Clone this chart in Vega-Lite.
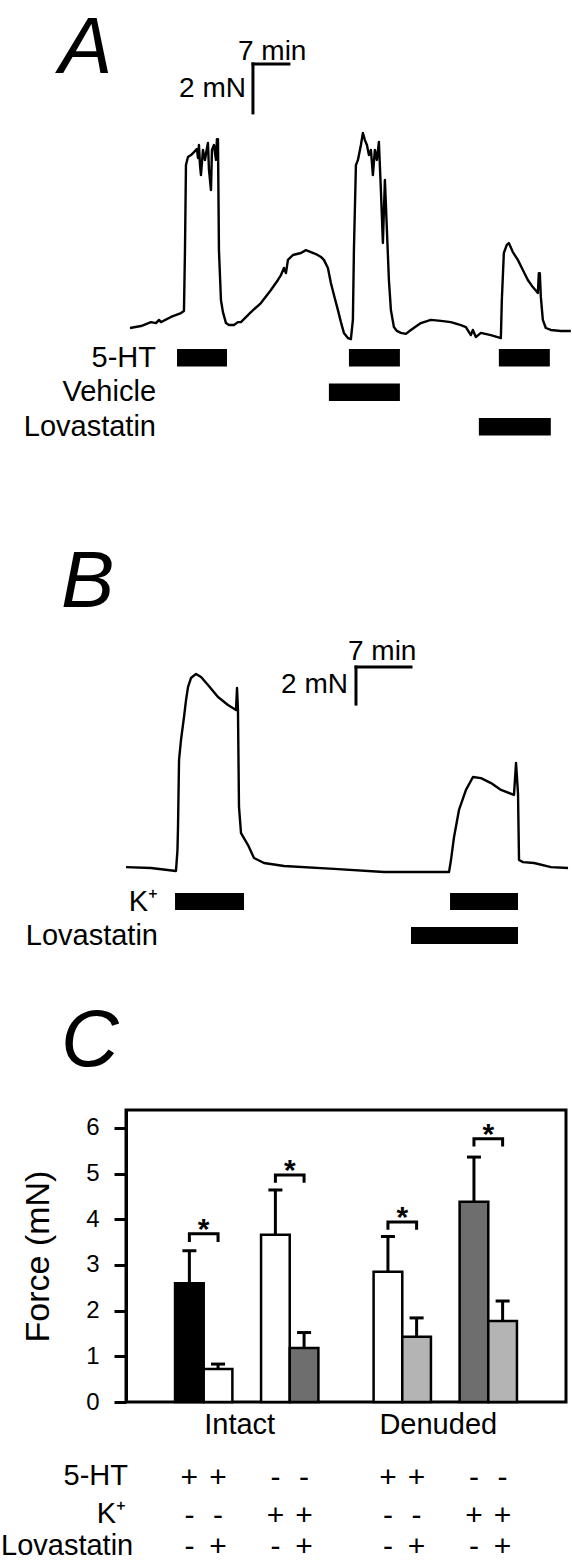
{
"$schema": "https://vega.github.io/schema/vega-lite/v6.json",
"background": "white",
"padding": 0,
"spacing": 0,
"bounds": "flush",
"config": {
  "font": "Liberation Sans",
  "view": {"stroke": null},
  "text": {"font": "Liberation Sans", "color": "black"},
  "axis": {"grid": false, "labelFont": "Liberation Sans", "titleFont": "Liberation Sans"}
},
"datasets": {
  "traceA": [
    {"t":0.78,"f":0},{"t":2.92,"f":0.08},{"t":4.86,"f":0.24},{"t":5.84,"f":0.20},{"t":6.42,"f":0.33},{"t":6.81,"f":0.24},{"t":8.75,"f":0.45},{"t":10.70,"f":0.61},{"t":11.28,"f":0.69},{"t":11.48,"f":3.18},{"t":11.67,"f":6.65},{"t":12.06,"f":6.98},{"t":12.65,"f":7.06},{"t":13.23,"f":7.18},{"t":13.81,"f":7.31},{"t":14.01,"f":6.94},{"t":14.20,"f":7.47},{"t":14.40,"f":6.65},{"t":14.59,"f":6.24},{"t":14.98,"f":7.27},{"t":15.37,"f":6.86},{"t":15.76,"f":7.35},{"t":15.95,"f":7.55},{"t":16.15,"f":6.45},{"t":16.54,"f":5.63},{"t":16.73,"f":7.27},{"t":17.12,"f":7.47},{"t":17.51,"f":6.86},{"t":17.70,"f":7.71},{"t":17.90,"f":7.71},{"t":18.09,"f":3.18},{"t":18.48,"f":1.14},{"t":18.87,"f":0.65},{"t":19.46,"f":0.20},{"t":20.04,"f":0.12},{"t":21.01,"f":0.12},{"t":21.79,"f":0.24},{"t":22.37,"f":0.24},{"t":24.32,"f":0.65},{"t":26.26,"f":1.02},{"t":28.21,"f":1.55},{"t":29.57,"f":1.96},{"t":30.16,"f":2.16},{"t":30.74,"f":2.45},{"t":31.13,"f":2.24},{"t":31.52,"f":2.78},{"t":32.49,"f":2.98},{"t":34.05,"f":3.06},{"t":35.02,"f":3.18},{"t":35.99,"f":3.10},{"t":36.96,"f":3.02},{"t":37.94,"f":2.90},{"t":38.52,"f":2.78},{"t":39.30,"f":2.45},{"t":39.88,"f":1.84},{"t":40.47,"f":1.35},{"t":41.25,"f":0.73},{"t":41.83,"f":0.24},{"t":42.41,"f":-0.20},{"t":43.19,"f":-0.41},{"t":43.77,"f":-0.45},{"t":44.16,"f":0.33},{"t":44.36,"f":3.18},{"t":44.75,"f":6.65},{"t":45.14,"f":6.86},{"t":45.72,"f":7.47},{"t":46.11,"f":7.96},{"t":46.50,"f":7.67},{"t":46.89,"f":7.47},{"t":47.28,"f":7.06},{"t":47.67,"f":7.27},{"t":48.05,"f":6.24},{"t":48.44,"f":7.27},{"t":48.83,"f":6.86},{"t":49.22,"f":7.59},{"t":49.61,"f":5.63},{"t":50.00,"f":3.47},{"t":50.39,"f":6.04},{"t":50.78,"f":4.00},{"t":51.17,"f":1.96},{"t":51.56,"f":0.73},{"t":52.14,"f":0.04},{"t":52.72,"f":-0.12},{"t":53.50,"f":-0.20},{"t":54.47,"f":-0.24},{"t":55.45,"f":-0.08},{"t":57.39,"f":0.20},{"t":59.34,"f":0.33},{"t":61.28,"f":0.29},{"t":63.23,"f":0.24},{"t":65.18,"f":0.12},{"t":66.15,"f":0.04},{"t":67.12,"f":-0.29},{"t":67.51,"f":-0.08},{"t":68.09,"f":-0.37},{"t":69.07,"f":-0.20},{"t":71.01,"f":-0.29},{"t":72.96,"f":-0.41},{"t":73.15,"f":1.14},{"t":73.54,"f":3.06},{"t":74.12,"f":3.39},{"t":74.51,"f":3.47},{"t":75.29,"f":3.10},{"t":76.26,"f":2.78},{"t":77.24,"f":2.37},{"t":78.21,"f":1.96},{"t":79.18,"f":1.67},{"t":80.16,"f":1.43},{"t":80.35,"f":2.24},{"t":80.54,"f":2.24},{"t":80.74,"f":1.27},{"t":81.13,"f":0.33},{"t":81.71,"f":0.00},{"t":82.68,"f":-0.08},{"t":84.63,"f":-0.12},{"t":86.58,"f":-0.12}
  ],
  "traceB": [
    {"t":0,"f":0.05},{"t":3.18,"f":0},{"t":6.36,"f":-0.16},{"t":6.55,"f":0.97},{"t":6.62,"f":2.22},{"t":6.75,"f":5.84},{"t":7.00,"f":6.92},{"t":7.38,"f":8.16},{"t":7.64,"f":9.08},{"t":7.89,"f":9.78},{"t":8.27,"f":10.27},{"t":8.91,"f":10.49},{"t":9.55,"f":10.32},{"t":10.44,"f":9.89},{"t":11.71,"f":9.24},{"t":12.98,"f":8.81},{"t":14.00,"f":8.54},{"t":14.13,"f":9.73},{"t":14.25,"f":8.54},{"t":14.38,"f":3.30},{"t":14.64,"f":1.89},{"t":15.53,"f":1.24},{"t":16.29,"f":0.54},{"t":17.56,"f":0.27},{"t":20.11,"f":0.11},{"t":26.47,"f":-0.05},{"t":32.84,"f":-0.22},{"t":41.11,"f":-0.22},{"t":41.36,"f":0.43},{"t":41.75,"f":1.68},{"t":42.38,"f":3.14},{"t":43.27,"f":4.22},{"t":44.16,"f":4.92},{"t":45.18,"f":4.86},{"t":46.46,"f":4.59},{"t":47.73,"f":4.22},{"t":49.38,"f":3.95},{"t":49.64,"f":5.68},{"t":49.89,"f":4.05},{"t":50.02,"f":0.43},{"t":50.53,"f":0.32},{"t":51.93,"f":0.27},{"t":54.09,"f":0.05},{"t":56.26,"f":0}
  ],
  "treatA": [
    {"treatment":"5-HT","start":9.93,"end":19.66},
    {"treatment":"5-HT","start":43.39,"end":53.31},
    {"treatment":"5-HT","start":72.57,"end":82.49},
    {"treatment":"Vehicle","start":39.49,"end":53.31},
    {"treatment":"Lovastatin","start":68.68,"end":82.68}
  ],
  "labelsA": [{"treatment":"5-HT"},{"treatment":"Vehicle"},{"treatment":"Lovastatin"}],
  "treatB": [
    {"treatment":"K⁺","start":6.24,"end":15.02},
    {"treatment":"K⁺","start":41.24,"end":49.89},
    {"treatment":"Lovastatin","start":36.27,"end":49.89}
  ],
  "labelsB": [{"treatment":"K⁺"},{"treatment":"Lovastatin"}],
  "bars": [
    {"group":"Intact","condition":"5-HT","bar":"Intact 5-HT","force":2.60,"upper":3.31,"ht":"+","k":"-","lov":"-"},
    {"group":"Intact","condition":"5-HT + Lovastatin","bar":"Intact 5-HT + Lovastatin","force":0.72,"upper":0.83,"ht":"+","k":"-","lov":"+"},
    {"group":"Intact","condition":"K⁺","bar":"Intact K⁺","force":3.66,"upper":4.64,"ht":"-","k":"+","lov":"-"},
    {"group":"Intact","condition":"K⁺ + Lovastatin","bar":"Intact K⁺ + Lovastatin","force":1.18,"upper":1.52,"ht":"-","k":"+","lov":"+"},
    {"group":"Denuded","condition":"5-HT","bar":"Denuded 5-HT","force":2.85,"upper":3.62,"ht":"+","k":"-","lov":"-"},
    {"group":"Denuded","condition":"5-HT + Lovastatin","bar":"Denuded 5-HT + Lovastatin","force":1.43,"upper":1.84,"ht":"+","k":"-","lov":"+"},
    {"group":"Denuded","condition":"K⁺","bar":"Denuded K⁺","force":4.38,"upper":5.36,"ht":"-","k":"+","lov":"-"},
    {"group":"Denuded","condition":"K⁺ + Lovastatin","bar":"Denuded K⁺ + Lovastatin","force":1.77,"upper":2.21,"ht":"-","k":"+","lov":"+"}
  ],
  "brackets": [
    {"pair":"Intact 5-HT","group":"Intact","condition":"5-HT","y":3.50,"o":1},
    {"pair":"Intact 5-HT","group":"Intact","condition":"5-HT","y":3.68,"o":2},
    {"pair":"Intact 5-HT","group":"Intact","condition":"5-HT + Lovastatin","y":3.68,"o":3},
    {"pair":"Intact 5-HT","group":"Intact","condition":"5-HT + Lovastatin","y":3.50,"o":4},
    {"pair":"Intact K⁺","group":"Intact","condition":"K⁺","y":4.80,"o":1},
    {"pair":"Intact K⁺","group":"Intact","condition":"K⁺","y":4.97,"o":2},
    {"pair":"Intact K⁺","group":"Intact","condition":"K⁺ + Lovastatin","y":4.97,"o":3},
    {"pair":"Intact K⁺","group":"Intact","condition":"K⁺ + Lovastatin","y":4.80,"o":4},
    {"pair":"Denuded 5-HT","group":"Denuded","condition":"5-HT","y":3.77,"o":1},
    {"pair":"Denuded 5-HT","group":"Denuded","condition":"5-HT","y":3.94,"o":2},
    {"pair":"Denuded 5-HT","group":"Denuded","condition":"5-HT + Lovastatin","y":3.94,"o":3},
    {"pair":"Denuded 5-HT","group":"Denuded","condition":"5-HT + Lovastatin","y":3.77,"o":4},
    {"pair":"Denuded K⁺","group":"Denuded","condition":"K⁺","y":5.59,"o":1},
    {"pair":"Denuded K⁺","group":"Denuded","condition":"K⁺","y":5.76,"o":2},
    {"pair":"Denuded K⁺","group":"Denuded","condition":"K⁺ + Lovastatin","y":5.76,"o":3},
    {"pair":"Denuded K⁺","group":"Denuded","condition":"K⁺ + Lovastatin","y":5.59,"o":4}
  ],
  "stars": [
    {"group":"Intact","pair":"5-HT","h":3.68},
    {"group":"Intact","pair":"K⁺","h":4.97},
    {"group":"Denuded","pair":"5-HT","h":3.94},
    {"group":"Denuded","pair":"K⁺","h":5.76}
  ]
},
"vconcat": [
  {
    "width": 447, "height": 480,
    "resolve": {"scale": {"y": "independent"}},
    "layer": [
      {"layer": [
        {"data": {"name": "traceA"},
         "mark": {"type": "line", "color": "black", "strokeWidth": 2.4, "strokeJoin": "round"},
         "encoding": {
           "x": {"field": "t", "type": "quantitative", "scale": {"domain": [0, 87], "nice": false, "zero": false}, "axis": null},
           "y": {"field": "f", "type": "quantitative", "scale": {"domain": [-6.204, 13.388], "nice": false, "zero": false}, "axis": null}}},
        {"data": {"values": [{}]},
         "mark": {"type": "rule", "color": "black", "strokeWidth": 3, "strokeCap": "square"},
         "encoding": {
           "x": {"datum": 24.71, "type": "quantitative", "scale": {"domain": [0, 87], "nice": false, "zero": false}, "axis": null},
           "x2": {"datum": 31.71},
           "y": {"datum": 10.78, "type": "quantitative", "scale": {"domain": [-6.204, 13.388], "nice": false, "zero": false}, "axis": null}}},
        {"data": {"values": [{}]},
         "mark": {"type": "rule", "color": "black", "strokeWidth": 3, "strokeCap": "square"},
         "encoding": {
           "x": {"datum": 24.71, "type": "quantitative", "scale": {"domain": [0, 87], "nice": false, "zero": false}, "axis": null},
           "y": {"datum": 10.78, "type": "quantitative", "scale": {"domain": [-6.204, 13.388], "nice": false, "zero": false}, "axis": null},
           "y2": {"datum": 8.78}}},
        {"data": {"values": [{}]},
         "mark": {"type": "text", "text": "A", "fontSize": 80, "fontStyle": "italic", "align": "left", "baseline": "alphabetic"},
         "encoding": {
           "x": {"datum": -13.04, "type": "quantitative", "scale": {"domain": [0, 87], "nice": false, "zero": false}, "axis": null},
           "y": {"datum": 10.408, "type": "quantitative", "scale": {"domain": [-6.204, 13.388], "nice": false, "zero": false}, "axis": null}}},
        {"data": {"values": [{}]},
         "mark": {"type": "text", "text": "7 min", "fontSize": 28, "align": "left", "baseline": "alphabetic"},
         "encoding": {
           "x": {"datum": 21.79, "type": "quantitative", "scale": {"domain": [0, 87], "nice": false, "zero": false}, "axis": null},
           "y": {"datum": 10.94, "type": "quantitative", "scale": {"domain": [-6.204, 13.388], "nice": false, "zero": false}, "axis": null}}},
        {"data": {"values": [{}]},
         "mark": {"type": "text", "text": "2 mN", "fontSize": 28, "align": "right", "baseline": "alphabetic"},
         "encoding": {
           "x": {"datum": 23.35, "type": "quantitative", "scale": {"domain": [0, 87], "nice": false, "zero": false}, "axis": null},
           "y": {"datum": 9.43, "type": "quantitative", "scale": {"domain": [-6.204, 13.388], "nice": false, "zero": false}, "axis": null}}}
      ]},
      {"layer": [
        {"data": {"name": "treatA"},
         "mark": {"type": "bar", "color": "black"},
         "encoding": {
           "x": {"field": "start", "type": "quantitative", "scale": {"domain": [0, 87], "nice": false, "zero": false}, "axis": null},
           "x2": {"field": "end"},
           "y": {"field": "treatment", "type": "nominal", "scale": {"domain": ["5-HT", "Vehicle", "Lovastatin"], "range": [349, 435.5], "paddingInner": 0.493, "paddingOuter": 0}, "axis": null}}},
        {"data": {"name": "labelsA"},
         "mark": {"type": "text", "fontSize": 29, "align": "right", "baseline": "middle"},
         "encoding": {
           "x": {"datum": 5.84, "type": "quantitative", "scale": {"domain": [0, 87], "nice": false, "zero": false}, "axis": null},
           "y": {"field": "treatment", "type": "nominal", "scale": {"domain": ["5-HT", "Vehicle", "Lovastatin"], "range": [349, 435.5], "paddingInner": 0.493, "paddingOuter": 0}, "axis": null},
           "text": {"field": "treatment"}}}
      ]}
    ]
  },
  {
    "width": 447, "height": 630,
    "resolve": {"scale": {"y": "independent"}},
    "layer": [
      {"layer": [
        {"data": {"name": "traceB"},
         "mark": {"type": "line", "color": "black", "strokeWidth": 2.4, "strokeJoin": "round"},
         "encoding": {
           "x": {"field": "t", "type": "quantitative", "scale": {"domain": [0, 56.89], "nice": false, "zero": false}, "axis": null},
           "y": {"field": "f", "type": "quantitative", "scale": {"domain": [-13.081, 20.973], "nice": false, "zero": false}, "axis": null}}},
        {"data": {"values": [{}]},
         "mark": {"type": "rule", "color": "black", "strokeWidth": 3, "strokeCap": "square"},
         "encoding": {
           "x": {"datum": 29.27, "type": "quantitative", "scale": {"domain": [0, 56.89], "nice": false, "zero": false}, "axis": null},
           "x2": {"datum": 36.27},
           "y": {"datum": 10.86, "type": "quantitative", "scale": {"domain": [-13.081, 20.973], "nice": false, "zero": false}, "axis": null}}},
        {"data": {"values": [{}]},
         "mark": {"type": "rule", "color": "black", "strokeWidth": 3, "strokeCap": "square"},
         "encoding": {
           "x": {"datum": 29.27, "type": "quantitative", "scale": {"domain": [0, 56.89], "nice": false, "zero": false}, "axis": null},
           "y": {"datum": 10.86, "type": "quantitative", "scale": {"domain": [-13.081, 20.973], "nice": false, "zero": false}, "axis": null},
           "y2": {"datum": 8.86}}},
        {"data": {"values": [{}]},
         "mark": {"type": "text", "text": "B", "fontSize": 80, "fontStyle": "italic", "align": "left", "baseline": "alphabetic"},
         "encoding": {
           "x": {"datum": -8.27, "type": "quantitative", "scale": {"domain": [0, 56.89], "nice": false, "zero": false}, "axis": null},
           "y": {"datum": 14.11, "type": "quantitative", "scale": {"domain": [-13.081, 20.973], "nice": false, "zero": false}, "axis": null}}},
        {"data": {"values": [{}]},
         "mark": {"type": "text", "text": "7 min", "fontSize": 28, "align": "left", "baseline": "alphabetic"},
         "encoding": {
           "x": {"datum": 28.25, "type": "quantitative", "scale": {"domain": [0, 56.89], "nice": false, "zero": false}, "axis": null},
           "y": {"datum": 11.24, "type": "quantitative", "scale": {"domain": [-13.081, 20.973], "nice": false, "zero": false}, "axis": null}}},
        {"data": {"values": [{}]},
         "mark": {"type": "text", "text": "2 mN", "fontSize": 28, "align": "right", "baseline": "alphabetic"},
         "encoding": {
           "x": {"datum": 28.25, "type": "quantitative", "scale": {"domain": [0, 56.89], "nice": false, "zero": false}, "axis": null},
           "y": {"datum": 9.46, "type": "quantitative", "scale": {"domain": [-13.081, 20.973], "nice": false, "zero": false}, "axis": null}}},
        {"data": {"values": [{}]},
         "mark": {"type": "text", "text": "C", "fontSize": 80, "fontStyle": "italic", "align": "left", "baseline": "alphabetic"},
         "encoding": {
           "x": {"datum": -8.27, "type": "quantitative", "scale": {"domain": [0, 56.89], "nice": false, "zero": false}, "axis": null},
           "y": {"datum": -10.703, "type": "quantitative", "scale": {"domain": [-13.081, 20.973], "nice": false, "zero": false}, "axis": null}}},
        {"data": {"values": [{}]},
         "mark": {"type": "text", "text": "5-HT", "fontSize": 29, "align": "right", "baseline": "alphabetic"},
         "encoding": {
           "x": {"datum": 0.25, "type": "quantitative", "scale": {"domain": [0, 56.89], "nice": false, "zero": false}, "axis": null},
           "y": {"datum": -33.351, "type": "quantitative", "scale": {"domain": [-13.081, 20.973], "nice": false, "zero": false}, "axis": null}}},
        {"data": {"values": [{}]},
         "mark": {"type": "text", "text": "K⁺", "fontSize": 29, "align": "right", "baseline": "alphabetic"},
         "encoding": {
           "x": {"datum": 0, "type": "quantitative", "scale": {"domain": [0, 56.89], "nice": false, "zero": false}, "axis": null},
           "y": {"datum": -35.405, "type": "quantitative", "scale": {"domain": [-13.081, 20.973], "nice": false, "zero": false}, "axis": null}}},
        {"data": {"values": [{}]},
         "mark": {"type": "text", "text": "Lovastatin", "fontSize": 29, "align": "left", "baseline": "alphabetic"},
         "encoding": {
           "x": {"datum": -15.909, "type": "quantitative", "scale": {"domain": [0, 56.89], "nice": false, "zero": false}, "axis": null},
           "y": {"datum": -37.135, "type": "quantitative", "scale": {"domain": [-13.081, 20.973], "nice": false, "zero": false}, "axis": null}}}
      ]},
      {"layer": [
        {"data": {"name": "treatB"},
         "mark": {"type": "bar", "color": "black"},
         "encoding": {
           "x": {"field": "start", "type": "quantitative", "scale": {"domain": [0, 56.89], "nice": false, "zero": false}, "axis": null},
           "x2": {"field": "end"},
           "y": {"field": "treatment", "type": "nominal", "scale": {"domain": ["K⁺", "Lovastatin"], "range": [413, 464], "paddingInner": 0.5, "paddingOuter": 0}, "axis": null}}},
        {"data": {"name": "labelsB"},
         "mark": {"type": "text", "fontSize": 29, "align": "right", "baseline": "middle"},
         "encoding": {
           "x": {"datum": 4.07, "type": "quantitative", "scale": {"domain": [0, 56.89], "nice": false, "zero": false}, "axis": null},
           "y": {"field": "treatment", "type": "nominal", "scale": {"domain": ["K⁺", "Lovastatin"], "range": [413, 464], "paddingInner": 0.5, "paddingOuter": 0}, "axis": null},
           "text": {"field": "treatment"}}}
      ]}
    ]
  },
  {
    "width": 440, "height": 292,
    "view": {"stroke": "black", "strokeWidth": 3},
    "layer": [
      {"data": {"name": "bars"},
       "mark": {"type": "bar", "stroke": "black", "strokeWidth": 2.5, "opacity": 1},
       "encoding": {
         "x": {"field": "group", "type": "nominal", "scale": {"domain": ["Intact", "Denuded"], "paddingInner": 0.278, "paddingOuter": 0.247},
               "axis": {"title": null, "ticks": false, "domain": false, "labelFontSize": 29, "labelColor": "black", "labelPadding": 8, "labelAngle": 0, "labelOffset": -7}},
         "xOffset": {"field": "condition", "type": "nominal", "scale": {"domain": ["5-HT", "5-HT + Lovastatin", "gap", "K⁺", "K⁺ + Lovastatin"], "paddingInner": 0, "paddingOuter": 0}},
         "y": {"field": "force", "type": "quantitative", "scale": {"domain": [0, 6.39], "nice": false, "zero": false},
               "axis": {"title": "Force (mN)", "values": [0, 1, 2, 3, 4, 5, 6], "tickSize": 12, "tickWidth": 3, "tickColor": "black",
                        "domainColor": "black", "domainWidth": 3, "labelFontSize": 24, "labelColor": "black", "labelPadding": 15,
                        "titleFontSize": 34, "titleFontWeight": "normal", "titleColor": "black", "titlePadding": 30}},
         "fill": {"field": "bar", "type": "nominal", "legend": null,
                  "scale": {"domain": ["Intact 5-HT", "Intact 5-HT + Lovastatin", "Intact K⁺", "Intact K⁺ + Lovastatin", "Denuded 5-HT", "Denuded 5-HT + Lovastatin", "Denuded K⁺", "Denuded K⁺ + Lovastatin"],
                            "range": ["#000000", "#ffffff", "#ffffff", "#6e6e6e", "#ffffff", "#b4b4b4", "#6e6e6e", "#b4b4b4"]}}}},
      {"data": {"name": "bars"},
       "mark": {"type": "rule", "color": "black", "strokeWidth": 3, "opacity": 1},
       "encoding": {
         "x": {"field": "group", "type": "nominal"},
         "xOffset": {"field": "condition", "type": "nominal"},
         "y": {"field": "force", "type": "quantitative"},
         "y2": {"field": "upper"}}},
      {"data": {"name": "bars"},
       "mark": {"type": "tick", "color": "black", "thickness": 3, "size": 14, "opacity": 1},
       "encoding": {
         "x": {"field": "group", "type": "nominal"},
         "xOffset": {"field": "condition", "type": "nominal"},
         "y": {"field": "upper", "type": "quantitative"}}},
      {"data": {"name": "brackets"},
       "mark": {"type": "line", "color": "black", "strokeWidth": 3, "opacity": 1},
       "encoding": {
         "x": {"field": "group", "type": "nominal"},
         "xOffset": {"field": "condition", "type": "nominal"},
         "y": {"field": "y", "type": "quantitative"},
         "detail": {"field": "pair"},
         "order": {"field": "o"}}},
      {"data": {"name": "stars"},
       "transform": [{"filter": "datum.pair === '5-HT'"}],
       "mark": {"type": "text", "text": "*", "fontSize": 30, "fontWeight": "bold", "align": "center", "baseline": "alphabetic", "dy": 5},
       "encoding": {
         "x": {"field": "group", "type": "nominal", "bandPosition": 0.2},
         "y": {"field": "h", "type": "quantitative"}}},
      {"data": {"name": "stars"},
       "transform": [{"filter": "datum.pair !== '5-HT'"}],
       "mark": {"type": "text", "text": "*", "fontSize": 30, "fontWeight": "bold", "align": "center", "baseline": "alphabetic", "dy": 5},
       "encoding": {
         "x": {"field": "group", "type": "nominal", "bandPosition": 0.8},
         "y": {"field": "h", "type": "quantitative"}}},
      {"data": {"name": "bars"},
       "mark": {"type": "text", "fontSize": 30, "align": "center", "baseline": "alphabetic"},
       "encoding": {
         "x": {"field": "group", "type": "nominal"},
         "xOffset": {"field": "condition", "type": "nominal"},
         "y": {"datum": -1.861, "type": "quantitative"},
         "text": {"field": "ht"}}},
      {"data": {"name": "bars"},
       "mark": {"type": "text", "fontSize": 30, "align": "center", "baseline": "alphabetic"},
       "encoding": {
         "x": {"field": "group", "type": "nominal"},
         "xOffset": {"field": "condition", "type": "nominal"},
         "y": {"datum": -2.693, "type": "quantitative"},
         "text": {"field": "k"}}},
      {"data": {"name": "bars"},
       "mark": {"type": "text", "fontSize": 30, "align": "center", "baseline": "alphabetic"},
       "encoding": {
         "x": {"field": "group", "type": "nominal"},
         "xOffset": {"field": "condition", "type": "nominal"},
         "y": {"datum": -3.372, "type": "quantitative"},
         "text": {"field": "lov"}}}
    ]
  }
]
}
